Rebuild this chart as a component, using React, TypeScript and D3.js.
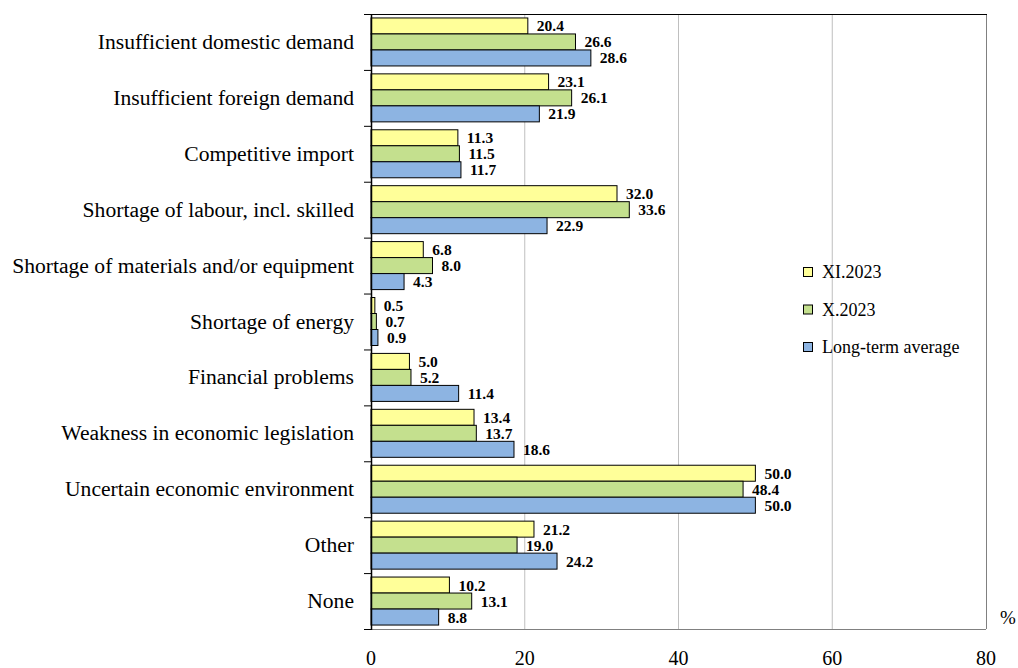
import React from "react";
import * as d3 from "d3";

const categories = [
  "Insufficient domestic demand",
  "Insufficient foreign demand",
  "Competitive import",
  "Shortage of labour, incl. skilled",
  "Shortage of materials and/or equipment",
  "Shortage of energy",
  "Financial problems",
  "Weakness in economic legislation",
  "Uncertain economic environment",
  "Other",
  "None",
];
const seriesNames = ["XI.2023", "X.2023", "Long-term average"];
const xi2023 = [20.4, 23.1, 11.3, 32.0, 6.8, 0.5, 5.0, 13.4, 50.0, 21.2, 10.2];
const x2023 = [26.6, 26.1, 11.5, 33.6, 8.0, 0.7, 5.2, 13.7, 48.4, 19.0, 13.1];
const longTerm = [28.6, 21.9, 11.7, 22.9, 4.3, 0.9, 11.4, 18.6, 50.0, 24.2, 8.8];
const xTicks = [0, 20, 40, 60, 80];
const colors = ["#FFFF99", "#C4E08E", "#8DB4E2"];

const W = 1018, H = 668;
const L = 371, R = 986, T = 14, B = 629;
const FONT = "Liberation Serif";

export default function App() {
  const series = [xi2023, x2023, longTerm];
  const x = d3.scaleLinear().domain([0, 80]).range([L, R]);
  const y = d3.scaleBand<string>().domain(categories).range([T, B]).paddingInner(0).paddingOuter(0);
  const step = y.step();
  const barH = 16;
  const groupOff = (step - barH * 3) / 2;

  return (
    <svg width={W} height={H} style={{ position: "absolute", left: 0, top: 0 }}>
      <rect x={0} y={0} width={W} height={H} fill="#fff" />
      {xTicks.slice(1, -1).map((t) => (
        <line key={t} x1={x(t)} x2={x(t)} y1={T} y2={B} stroke="#BFBFBF" strokeWidth={1} />
      ))}
      <line x1={R + 0.5} x2={R + 0.5} y1={T} y2={B} stroke="#808080" strokeWidth={1} />
      <line x1={L} x2={R} y1={B + 0.5} y2={B + 0.5} stroke="#808080" strokeWidth={1} />
      <line x1={L - 7} x2={R + 1} y1={T + 0.5} y2={T + 0.5} stroke="#000" strokeWidth={1.2} />
      {categories.map((c, i) => {
        const y0 = y(c)!;
        return (
          <g key={c}>
            {series.map((s, k) => {
              const by = y0 + groupOff + k * barH;
              return (
                <g key={k}>
                  <rect x={L} y={by} width={x(s[i]) - L} height={barH} fill={colors[k]} stroke="#000" strokeWidth={1} />
                  <text x={x(s[i]) + 9} y={by + barH / 2 + 5.5} fontFamily={FONT} fontSize={15.5} fontWeight="bold" fill="#000">
                    {s[i].toFixed(1)}
                  </text>
                </g>
              );
            })}
            <text x={354} y={y0 + step / 2 + 7} textAnchor="end" fontFamily={FONT} fontSize={21.6} fill="#000">
              {c}
            </text>
          </g>
        );
      })}
      {d3.range(categories.length + 1).map((i) => (
        <line key={i} x1={L - 7} x2={L} y1={T + i * step + 0.5} y2={T + i * step + 0.5} stroke="#000" strokeWidth={1} />
      ))}
      <line x1={L + 0.5} x2={L + 0.5} y1={T} y2={B + 1} stroke="#000" strokeWidth={1.5} />
      {xTicks.map((t) => (
        <text key={t} x={x(t)} y={665} textAnchor="middle" fontFamily={FONT} fontSize={20} fill="#000">
          {t}
        </text>
      ))}
      <text x={1008} y={624} textAnchor="middle" fontFamily={FONT} fontSize={19} fill="#000">%</text>
      {seriesNames.map((n, k) => (
        <g key={n}>
          <rect x={803.5} y={267.5 + k * 37.5} width={9} height={9} fill={colors[k]} stroke="#000" strokeWidth={1} />
          <text x={822} y={278 + k * 37.5} fontFamily={FONT} fontSize={18} fill="#000">{n}</text>
        </g>
      ))}
    </svg>
  );
}
